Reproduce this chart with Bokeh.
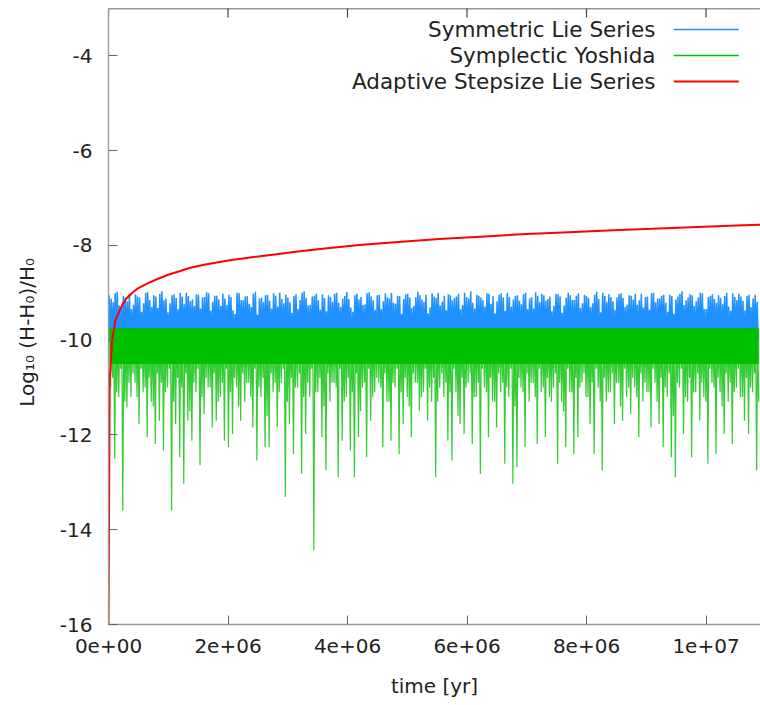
from bokeh.plotting import figure
from bokeh.models import Range1d, FixedTicker, Label, Span
from bokeh.embed import file_html
from bokeh.resources import INLINE

# ---------------- data ----------------
x_ticks = [0, 2000000, 4000000, 6000000, 8000000, 10000000]
x_tick_labels = ["0e+00", "2e+06", "4e+06", "6e+06", "8e+06", "1e+07"]
y_ticks = [-16, -14, -12, -10, -8, -6, -4]
y_tick_labels = ["-16", "-14", "-12", "-10", "-8", "-6", "-4"]

series_names = ["Symmetric Lie Series", "Symplectic Yoshida", "Adaptive Stepsize Lie Series"]

# sampling of the plotted oscillating series (years)
sample_start = 1.0e4
sample_step = 6.8e4

# Symmetric Lie Series: upper peaks (two interleaved sets) and lower turning level
blue_peaks_a = [
    -9.05, -9.20, -8.98, -9.30, -9.10, -9.02, -9.25, -9.08, -9.40, -9.00,
    -9.15, -9.05, -9.32, -8.97, -9.12, -9.22, -9.03, -9.35, -9.08, -9.00,
    -9.18, -9.28, -9.04, -9.10, -8.99, -9.38, -9.06, -9.14, -9.02, -9.25,
    -9.09, -9.45, -9.01, -9.16, -9.07, -9.30, -8.98, -9.12, -9.20, -9.04,
    -9.33, -9.06, -9.00, -9.22, -9.10, -9.42, -9.03, -9.15, -8.97, -9.27,
    -9.08, -9.02, -9.36, -9.11, -9.05, -9.19, -9.00, -9.30, -9.07, -9.13,
    -9.40, -9.02, -9.09, -9.24, -8.99, -9.16, -9.05, -9.34, -9.01, -9.12,
    -9.21, -9.06, -9.44, -9.03, -9.10, -9.28, -8.98, -9.14, -9.04, -9.31,
    -9.08, -9.00, -9.19, -9.37, -9.05, -9.11, -9.02, -9.26, -9.09, -8.97,
    -9.33, -9.06, -9.15, -9.01, -9.23, -9.43, -9.04, -9.10, -9.00, -9.29,
    -9.07, -9.17, -9.03, -9.35, -9.09, -8.99, -9.20, -9.05, -9.13, -9.39,
    -9.02, -9.08, -9.27, -9.00, -9.15, -9.06, -9.32, -9.04, -9.11, -9.22,
    -8.98, -9.41, -9.07, -9.03, -9.18, -9.10, -9.01, -9.30, -9.05, -9.14,
    -9.25, -9.02, -9.09, -9.36, -9.00, -9.12, -9.06, -9.21, -9.04, -9.44,
    -9.08, -8.97, -9.16, -9.03, -9.28, -9.10, -9.01, -9.34, -9.06, -9.13,
    -9.05, -9.24, -9.00, -9.38, -9.09, -9.02, -9.17, -9.07, -9.30, -9.04,
]
blue_peaks_b = [
    -9.12, -9.01, -9.27, -9.06, -9.18, -9.35, -9.03, -9.10, -9.22, -8.99,
    -9.30, -9.08, -9.02, -9.16, -9.41, -9.05, -9.11, -9.00, -9.24, -9.07,
    -9.14, -9.03, -9.33, -9.09, -9.01, -9.19, -9.06, -9.28, -9.12, -9.04,
    -9.37, -9.00, -9.15, -9.08, -9.23, -9.02, -9.46, -9.10, -9.05, -9.17,
    -9.01, -9.29, -9.13, -9.04, -9.20, -9.07, -9.34, -9.00, -9.11, -9.25,
    -9.06, -9.16, -9.03, -9.39, -9.09, -9.02, -9.21, -9.12, -8.98, -9.31,
    -9.05, -9.14, -9.26, -9.01, -9.08, -9.36, -9.04, -9.18, -9.10, -9.00,
    -9.23, -9.07, -9.13, -9.02, -9.32, -9.09, -9.05, -9.19, -9.43, -9.01,
    -9.11, -9.27, -9.06, -9.03, -9.16, -9.08, -9.35, -9.00, -9.12, -9.21,
    -9.04, -9.10, -9.29, -9.02, -9.07, -9.18, -9.01, -9.38, -9.09, -9.14,
    -9.05, -9.24, -9.00, -9.12, -9.33, -9.06, -9.02, -9.17, -9.08, -9.27,
    -9.03, -9.42, -9.10, -9.05, -9.15, -9.01, -9.22, -9.07, -9.30, -9.04,
    -9.13, -9.00, -9.19, -9.09, -9.36, -9.03, -9.11, -9.25, -9.06, -9.02,
    -9.16, -9.31, -9.08, -9.01, -9.20, -9.12, -9.04, -9.40, -9.07, -9.14,
    -9.02, -9.26, -9.10, -9.05, -9.18, -9.00, -9.34, -9.09, -9.03, -9.21,
    -9.11, -9.06, -9.29, -9.01, -9.15, -9.08, -9.37, -9.04, -9.12, -9.19,
]
blue_trough_level = -10.0

# Symplectic Yoshida: upper level, dense core lower edge, downward spikes
green_top_level = -9.75
green_core_bottom = -10.5
green_troughs_a = [
    -11.00, -12.50, -11.20, -13.60, -11.42, -11.20, -10.90, -11.77, -11.10, -12.05,
    -11.30, -12.19, -11.70, -12.33, -11.00, -13.60, -11.77, -12.47, -13.03, -11.70,
    -12.12, -11.10, -12.64, -11.56, -11.00, -11.84, -11.70, -11.20, -12.12, -12.26,
    -11.98, -11.00, -11.70, -11.30, -10.90, -11.84, -12.54, -11.20, -12.26, -12.26,
    -11.10, -11.84, -10.90, -13.31, -11.77, -12.40, -11.00, -12.82, -11.98, -11.20,
    -14.44, -11.10, -12.05, -12.75, -11.30, -10.90, -12.89, -12.12, -11.20, -12.33,
    -12.89, -12.05, -11.00, -12.47, -11.70, -11.10, -10.90, -12.26, -11.30, -12.12,
    -11.00, -12.40, -11.77, -11.20, -12.05, -10.90, -11.49, -11.10, -11.70, -11.30,
    -12.89, -11.00, -11.20, -12.12, -12.54, -11.10, -11.77, -11.98, -10.90, -12.19,
    -11.20, -12.82, -11.00, -12.05, -11.30, -11.84, -11.10, -12.61, -11.20, -13.03,
    -12.68, -11.00, -12.26, -11.30, -10.90, -12.19, -11.10, -12.05, -11.20, -11.00,
    -12.61, -11.30, -12.26, -11.10, -12.40, -12.05, -10.90, -11.20, -11.77, -12.40,
    -11.00, -12.75, -11.30, -11.10, -11.77, -10.90, -11.70, -11.20, -11.56, -11.00,
    -12.05, -11.30, -11.10, -11.84, -10.90, -11.77, -12.26, -11.20, -12.47, -12.89,
    -11.00, -11.98, -11.30, -12.47, -11.10, -11.70, -11.20, -12.61, -10.90, -12.40,
    -11.10, -11.98, -11.30, -12.19, -11.00, -11.20, -11.70, -11.98, -11.10, -12.75,
]
green_troughs_b = [
    -10.8, -11.1, -10.6, -11.3, -10.9, -10.7, -11.2, -10.6, -11.0, -10.8,
    -11.4, -10.7, -10.9, -11.1, -10.6, -11.3, -10.8, -11.0, -10.7, -11.5,
    -10.9, -10.6, -11.2, -10.8, -11.0, -10.7, -11.3, -10.9, -10.6, -11.1,
    -10.8, -11.4, -10.7, -10.9, -11.2, -10.6, -11.0, -10.8, -11.6, -10.7,
    -10.9, -11.1, -10.6, -11.3, -10.8, -11.0, -10.7, -11.2, -10.9, -10.6,
    -11.1, -10.8, -11.4, -10.7, -10.9, -11.0, -10.6, -11.3, -10.8, -11.1,
    -10.7, -11.5, -10.9, -10.6, -11.2, -10.8, -11.0, -10.7, -11.3, -10.9,
    -10.6, -11.1, -10.8, -11.4, -10.7, -10.9, -11.2, -10.6, -11.0, -10.8,
    -11.3, -10.7, -10.9, -11.1, -10.6, -11.6, -10.8, -11.0, -10.7, -11.2,
    -10.9, -10.6, -11.1, -10.8, -11.3, -10.7, -10.9, -11.0, -10.6, -11.4,
    -10.8, -11.1, -10.7, -10.9, -11.2, -10.6, -11.0, -10.8, -11.3, -10.7,
    -10.9, -11.5, -10.6, -11.1, -10.8, -11.0, -10.7, -11.2, -10.9, -10.6,
    -11.3, -10.8, -11.1, -10.7, -10.9, -11.4, -10.6, -11.0, -10.8, -11.2,
    -10.7, -10.9, -11.1, -10.6, -11.3, -10.8, -11.0, -10.7, -11.6, -10.9,
    -10.6, -11.2, -10.8, -11.1, -10.7, -10.9, -11.3, -10.6, -11.0, -10.8,
    -11.4, -10.7, -10.9, -11.1, -10.6, -11.2, -10.8, -11.0, -10.7, -11.3,
]

# Adaptive Stepsize Lie Series
red_time = [0, 2.0e4, 3.3e4, 6.0e4, 1.17e5, 1.7e5, 2.3e5, 3.0e5, 4.0e5, 5.0e5,
            6.7e5, 8.0e5, 1.0e6, 1.2e6, 1.37e6, 1.6e6, 2.0e6, 2.4e6, 2.78e6, 3.1e6,
            3.5e6, 4.2e6, 4.9e6, 5.6e6, 6.3e6, 7.0e6, 7.7e6, 8.45e6, 9.1e6, 9.86e6,
            1.05e7, 1.1e7]
red_value = [-16.0, -10.8, -10.6, -10.0, -9.58, -9.42, -9.26, -9.12, -9.0, -8.9,
             -8.79, -8.72, -8.62, -8.54, -8.47, -8.41, -8.32, -8.25, -8.19, -8.14,
             -8.08, -7.99, -7.92, -7.86, -7.81, -7.76, -7.72, -7.68, -7.65, -7.61,
             -7.58, -7.56]

colors = ["#1e90ff", "#00c000", "#ff0000"]

# ---------------- build oscillation polylines ----------------
q = sample_step / 4
blue_x, blue_y = [], []
for i, (va, vb) in enumerate(zip(blue_peaks_a, blue_peaks_b)):
    t = sample_start + i * sample_step
    blue_x += [t, t + q, t + 2 * q, t + 3 * q]
    blue_y += [va, blue_trough_level, vb, blue_trough_level]

green_x, green_y = [], []
for i, (va, vb) in enumerate(zip(green_troughs_a, green_troughs_b)):
    t = sample_start + q / 2 + i * sample_step
    green_x += [t, t + q, t + 2 * q, t + 3 * q]
    green_y += [green_top_level, va, green_top_level, vb]

FONT = "DejaVu Sans"
TXT = "#222222"

p = figure(width=760, height=705, frame_width=652, frame_height=616,
           output_backend="svg", toolbar_location=None,
           x_range=Range1d(0, 1.0912e7), y_range=Range1d(-16, -3),
           min_border_left=108, min_border_right=0, min_border_top=8,
           min_border_bottom=81, background_fill_color="white",
           border_fill_color="white")
p.grid.visible = False
p.outline_line_color = None

# series
p.line(blue_x, blue_y, line_color=colors[0], line_width=1.5)
p.varea(x=[green_x[0], green_x[-1]], y1=[green_top_level, green_top_level],
        y2=[green_core_bottom, green_core_bottom], fill_color=colors[1])
p.line(green_x, green_y, line_color=colors[1], line_width=1.2, line_alpha=0.8)
p.line(red_time, red_value, line_color=colors[2], line_width=2)

# axes
for ax in (p.xaxis[0], p.yaxis[0]):
    ax.axis_line_color = "#999999"
    ax.axis_line_width = 1.3
    ax.major_tick_in = 9
    ax.major_tick_out = 0
    ax.minor_tick_line_color = None
    ax.major_tick_line_color = "#666666"
    ax.major_label_text_font = FONT
    ax.major_label_text_font_size = "20px"
    ax.major_label_text_color = TXT
    ax.axis_label_text_font = FONT
    ax.axis_label_text_font_size = "20px"
    ax.axis_label_text_font_style = "normal"
    ax.axis_label_text_color = TXT

p.xaxis.ticker = FixedTicker(ticks=x_ticks)
p.xaxis.major_label_overrides = dict(zip(x_ticks, x_tick_labels))
p.xaxis.axis_label = "time [yr]"
p.xaxis.major_label_standoff = 14
p.xaxis.axis_label_standoff = 18

p.yaxis.ticker = FixedTicker(ticks=y_ticks)
p.yaxis.major_label_overrides = dict(zip(y_ticks, y_tick_labels))
p.yaxis.major_label_standoff = 16
# trailing no-break spaces shift the centred title a little toward the bottom, as in the reference
p.yaxis.axis_label = "Log\u2081\u2080 (H-H\u2080)/H\u2080" + "\u00a0" * 5
p.yaxis.axis_label_standoff = 18

# top border with mirrored ticks
y_top = -3.0
p.add_layout(Span(location=y_top, dimension="width", line_color="#333333", line_width=1.5))
p.segment(x0=x_ticks, y0=[y_top] * len(x_ticks), x1=x_ticks,
          y1=[y_top - 0.19] * len(x_ticks), line_color="#444444", line_width=1.2)

# key (top right, text right-aligned, sample to its right)
key_text_x = 9.155e6
key_line_x0 = 9.461e6
key_line_x1 = 1.0549e7
key_rows = [-3.443, -3.992, -4.541]
key_widths = [1.3, 1.3, 2]
for name, c, yv in zip(series_names, colors, key_rows):
    p.add_layout(Label(x=key_text_x, y=yv, text=name, text_align="right",
                       text_baseline="middle", text_font=FONT,
                       text_font_size="21.5px", text_color=TXT))
p.segment(x0=[key_line_x0] * 3, y0=key_rows, x1=[key_line_x1] * 3, y1=key_rows,
          line_color=colors, line_width=key_widths)

open("out.html", "w").write(file_html(p, INLINE))
